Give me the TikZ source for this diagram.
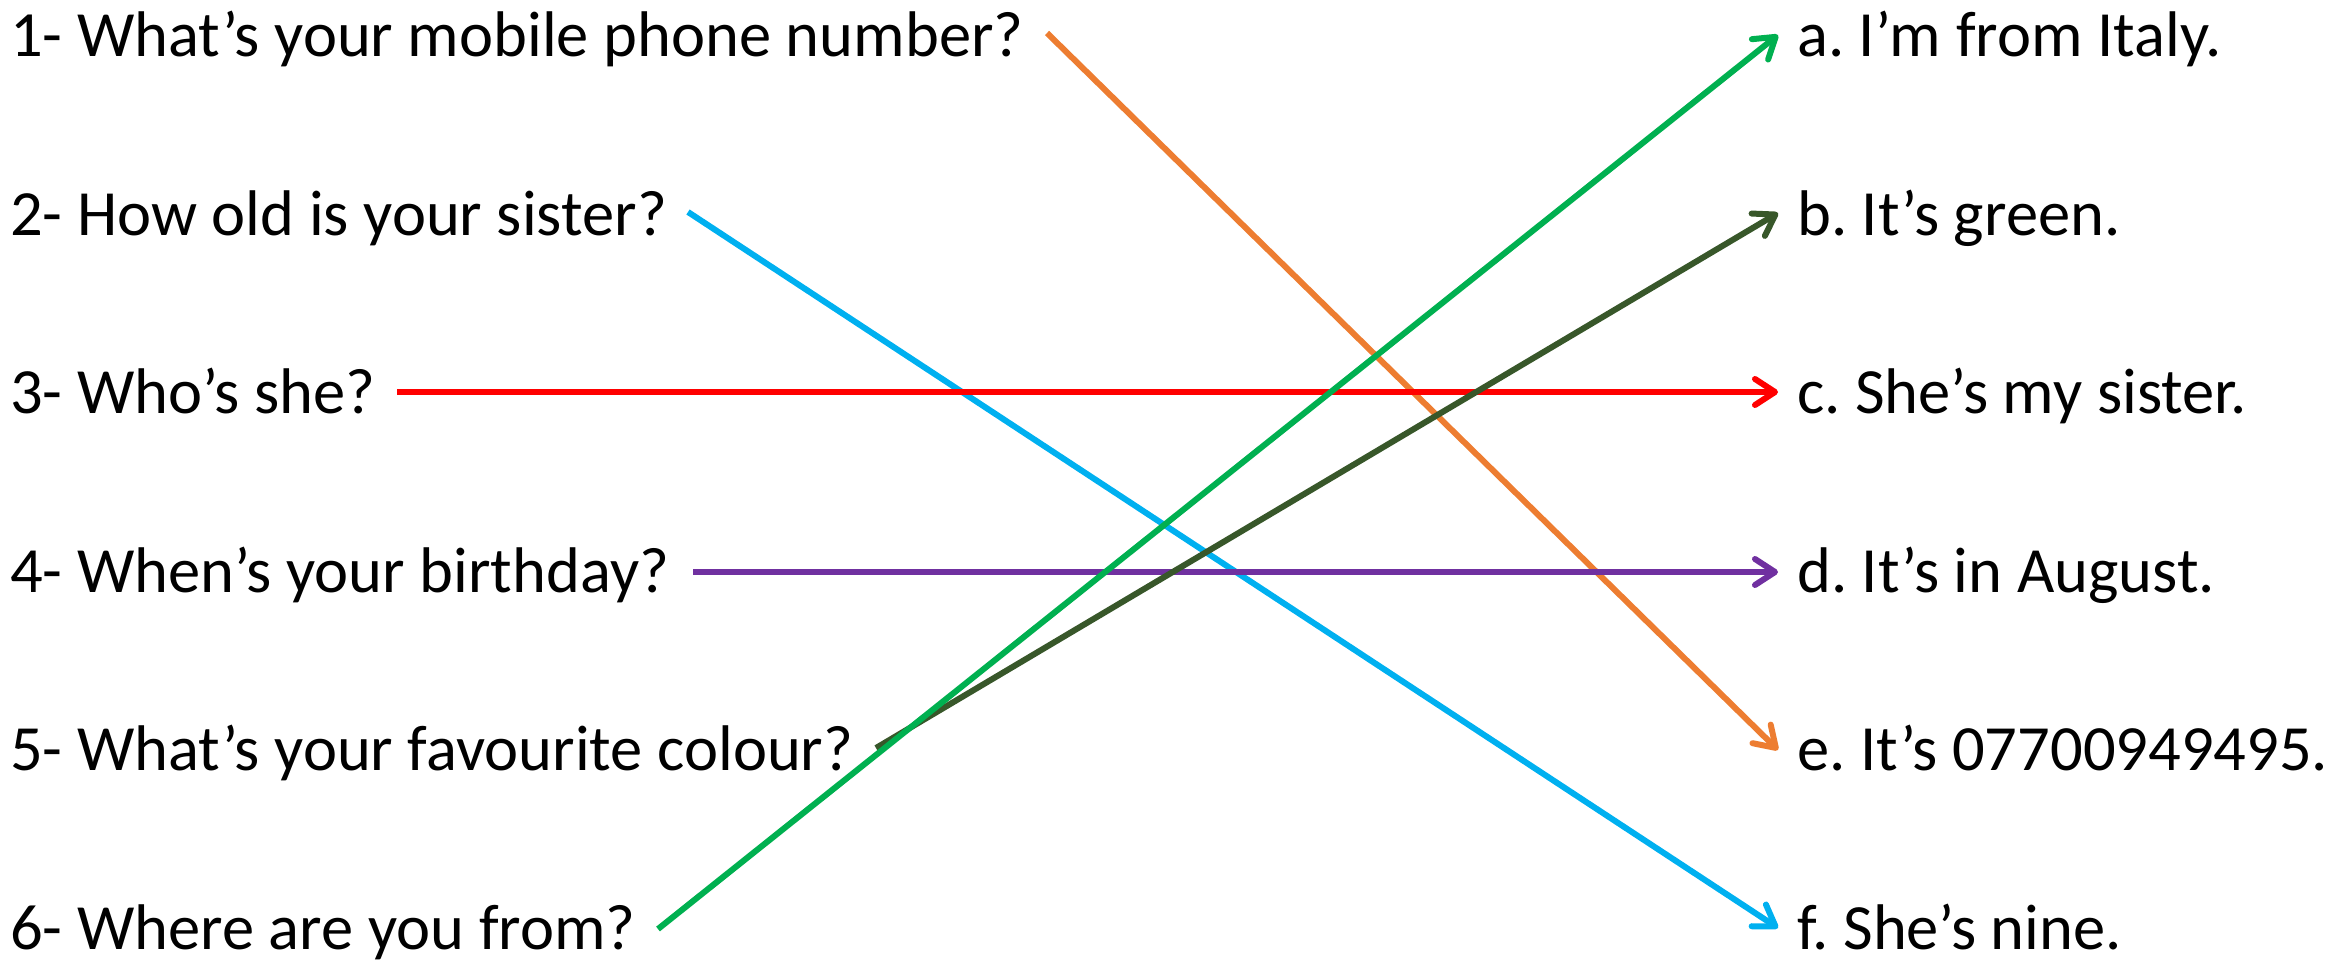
\documentclass[tikz,border=0pt]{standalone}
\usepackage{fontspec}
\setmainfont{Carlito}
\usetikzlibrary{arrows.meta}
\frenchspacing
\definecolor{cOrange}{HTML}{ED7D31}
\definecolor{cBlue}{HTML}{00B0F0}
\definecolor{cRed}{HTML}{FF0000}
\definecolor{cPurple}{HTML}{7030A0}
\definecolor{cDkGreen}{HTML}{38572A}
\definecolor{cGreen}{HTML}{00B050}
\tikzset{
  txt/.style={anchor=base west, inner sep=0pt, font=\fontsize{64.5}{77}\selectfont},
  conn/.style={line width=6pt, -{Straight Barb[length=20pt,width=26pt,round]}}
}
\begin{document}
\begin{tikzpicture}[x=1pt,y=-1pt]
\useasboundingbox (0,0) rectangle (2351,961);
% questions
\node[txt] (q1) at (10,56) {1- What’s your mobile phone number?};
\node[txt] (q2) at (10,235) {2- How old is your sister?};
\node[txt] (q3) at (10,413) {3- Who’s she?};
\node[txt] (q4) at (10,592) {4- When’s your birthday?};
\node[txt] (q5) at (10,770) {5- What’s your favourite colour?};
\node[txt] (q6) at (10,949) {6- Where are you from?};
% answers
\node[txt] (a) at (1797,56) {a. I’m from Italy.};
\node[txt] (b) at (1797,235) {b. It’s green.};
\node[txt] (c) at (1797,413) {c. She’s my sister.};
\node[txt] (d) at (1797,592) {d. It’s in August.};
\node[txt] (e) at (1797,770) {e. It’s 07700949495.};
\node[txt] (f) at (1797,949) {f. She’s nine.};
% connector ends
\coordinate (s1) at (1047,33);
\coordinate (s2) at (688,212);
\coordinate (s3) at (397,392);
\coordinate (s4) at (693,572);
\coordinate (s5) at (876,748);
\coordinate (s6) at (658,929);
\coordinate (ta) at (1778,35);
\coordinate (tb) at (1778,213);
\coordinate (tc) at (1778,392);
\coordinate (td) at (1778,572);
\coordinate (te) at (1778,750);
\coordinate (tf) at (1778,928);
% connectors
\draw[conn, cOrange] (s1) -- (te);
\draw[conn, cBlue] (s2) -- (tf);
\draw[conn, cRed] (s3) -- (tc);
\draw[conn, cPurple] (s4) -- (td);
\draw[conn, cDkGreen] (s5) -- (tb);
\draw[conn, cGreen] (s6) -- (ta);
\end{tikzpicture}
\end{document}
